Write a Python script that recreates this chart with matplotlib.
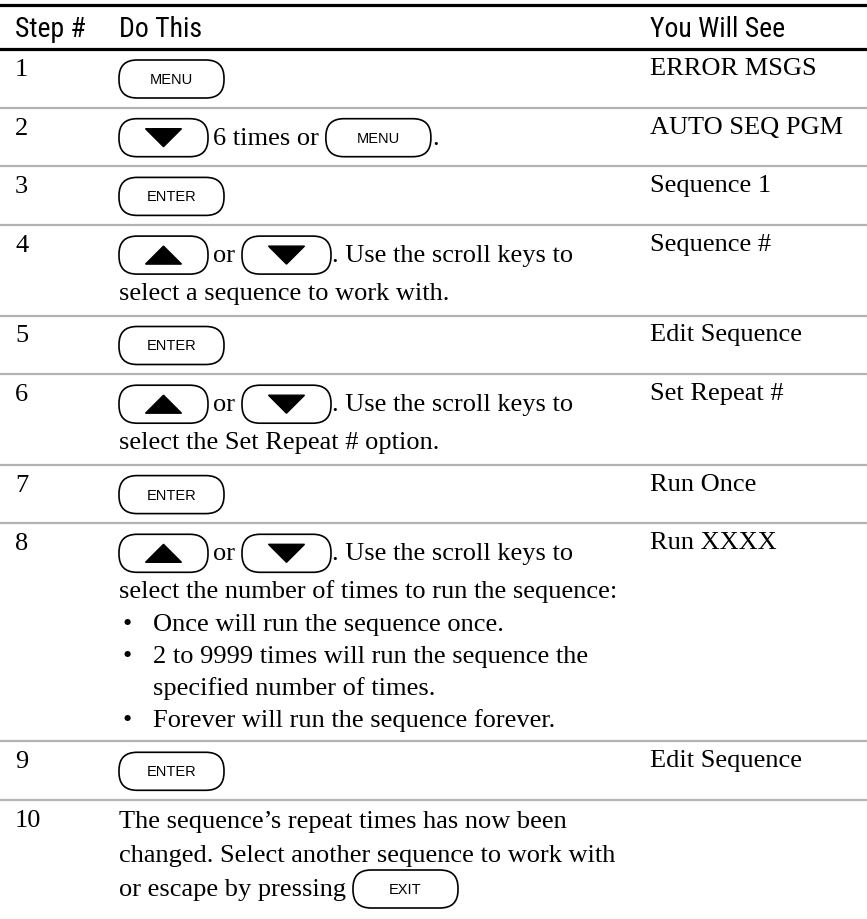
import matplotlib
matplotlib.use('Agg')
import matplotlib.pyplot as plt
from matplotlib.patches import FancyBboxPatch

# table contents
headers = ['Step #', 'Do This', 'You Will See']
steps = ['1', '2', '3', '4', '5', '6', '7', '8', '9', '10']
you_see = ['ERROR MSGS', 'AUTO SEQ PGM', 'Sequence 1', 'Sequence #', 'Edit Sequence',
           'Set Repeat #', 'Run Once', 'Run XXXX', 'Edit Sequence', '']

scroll = [('key', 'up'), ('text', 'or'), ('key', 'down'), ('text', '. Use the scroll keys to')]
do_this = [
    [[('key', 'MENU')]],
    [[('key', 'down'), ('text', '6 times or'), ('key', 'MENU'), ('text', '.')]],
    [[('key', 'ENTER')]],
    [scroll, [('text', 'select a sequence to work with.')]],
    [[('key', 'ENTER')]],
    [scroll, [('text', 'select the Set Repeat # option.')]],
    [[('key', 'ENTER')]],
    [scroll,
     [('text', 'select the number of times to run the sequence:')],
     [('bullet', 'Once will run the sequence once.')],
     [('bullet', '2 to 9999 times will run the sequence the')],
     [('indent', 'specified number of times.')],
     [('bullet', 'Forever will run the sequence forever.')]],
    [[('key', 'ENTER')]],
    [[('text', 'The sequence\u2019s repeat times has now been')],
     [('text', 'changed. Select another sequence to work with')],
     [('text', 'or escape by pressing'), ('key', 'EXIT')]],
]

W, H = 867, 920
fig = plt.figure(figsize=(W / 100, H / 100), dpi=100)
ax = fig.add_axes([0, 0, 1, 1])
ax.set_xlim(0, W)
ax.set_ylim(H, 0)
ax.axis('off')
rend = fig.canvas.get_renderer()

serif = dict(family=['Liberation Serif', 'DejaVu Serif'], size=19, color='black')
head = dict(family=['Liberation Sans Narrow', 'Roboto Condensed', 'Liberation Sans', 'DejaVu Sans'],
            size=20, color='black')
keyf = dict(family=['Liberation Sans', 'DejaVu Sans'], size=10.5, color='black')

X_NUM, X_DO, X_SEE = 15, 119, 650

# header
ax.axhline(6, color='black', lw=2.3)
ax.axhline(49.5, color='black', lw=2.3)
for txt, x in zip(headers, [X_NUM, X_DO, X_SEE]):
    ax.text(x, 37, txt, va='baseline', ha='left', **head)


def draw_key(x, yc, label):
    w = 89 if label in ('up', 'down') else 105
    h = 38
    box = FancyBboxPatch((x, yc - h / 2), w, h, boxstyle='round,pad=0,rounding_size=18',
                         fc='white', ec='black', lw=1.2)
    ax.add_patch(box)
    cx = x + w / 2
    if label == 'up':
        ax.fill([cx - 18, cx + 18, cx], [yc + 9, yc + 9, yc - 9], color='black')
    elif label == 'down':
        ax.fill([cx - 18, cx + 18, cx], [yc - 9, yc - 9, yc + 9], color='black')
    else:
        ax.text(cx, yc, label, ha='center', va='center', **keyf)
    return x + w


def draw_line(segs, base):
    x = X_DO
    prev = None
    for kind, val in segs:
        if kind == 'key':
            if prev == 'text':
                x += 7
            x = draw_key(x, base - 6, val)
        elif kind == 'text':
            if prev == 'key':
                x += 1 if val.startswith('.') else 5
            t = ax.text(x, base, val, va='baseline', ha='left', **serif)
            x += t.get_window_extent(renderer=rend).width
        elif kind == 'bullet':
            ax.text(X_DO + 3, base, '\u2022', va='baseline', ha='left', **serif)
            ax.text(X_DO + 34, base, val, va='baseline', ha='left', **serif)
        elif kind == 'indent':
            ax.text(X_DO + 34, base, val, va='baseline', ha='left', **serif)
        prev = kind


top = 50.0
for i, (num, lines, see) in enumerate(zip(steps, do_this, you_see)):
    ax.text(X_NUM, top + 26, num, va='baseline', ha='left', **serif)
    if see:
        ax.text(X_SEE, top + 25, see, va='baseline', ha='left', **serif)
    has_key = any(k == 'key' for k, _ in lines[0])
    if has_key:
        base = top + 36
        draw_line(lines[0], base)
        base += 38
        for ln in lines[1:]:
            draw_line(ln, base)
            base += 32.3
        height = 58.7 + 31.7 * (len(lines) - 1) + (0.8 if len(lines) > 2 else 0)
    else:
        base = top + 27
        for ln in lines:
            draw_line(ln, base)
            base += 34
        height = 27 + 34 * len(lines)
    top += height
    if i < len(steps) - 1:
        ax.axhline(top, color='#b3b3b3', lw=1.6)

fig.savefig('out.png', dpi=100)
